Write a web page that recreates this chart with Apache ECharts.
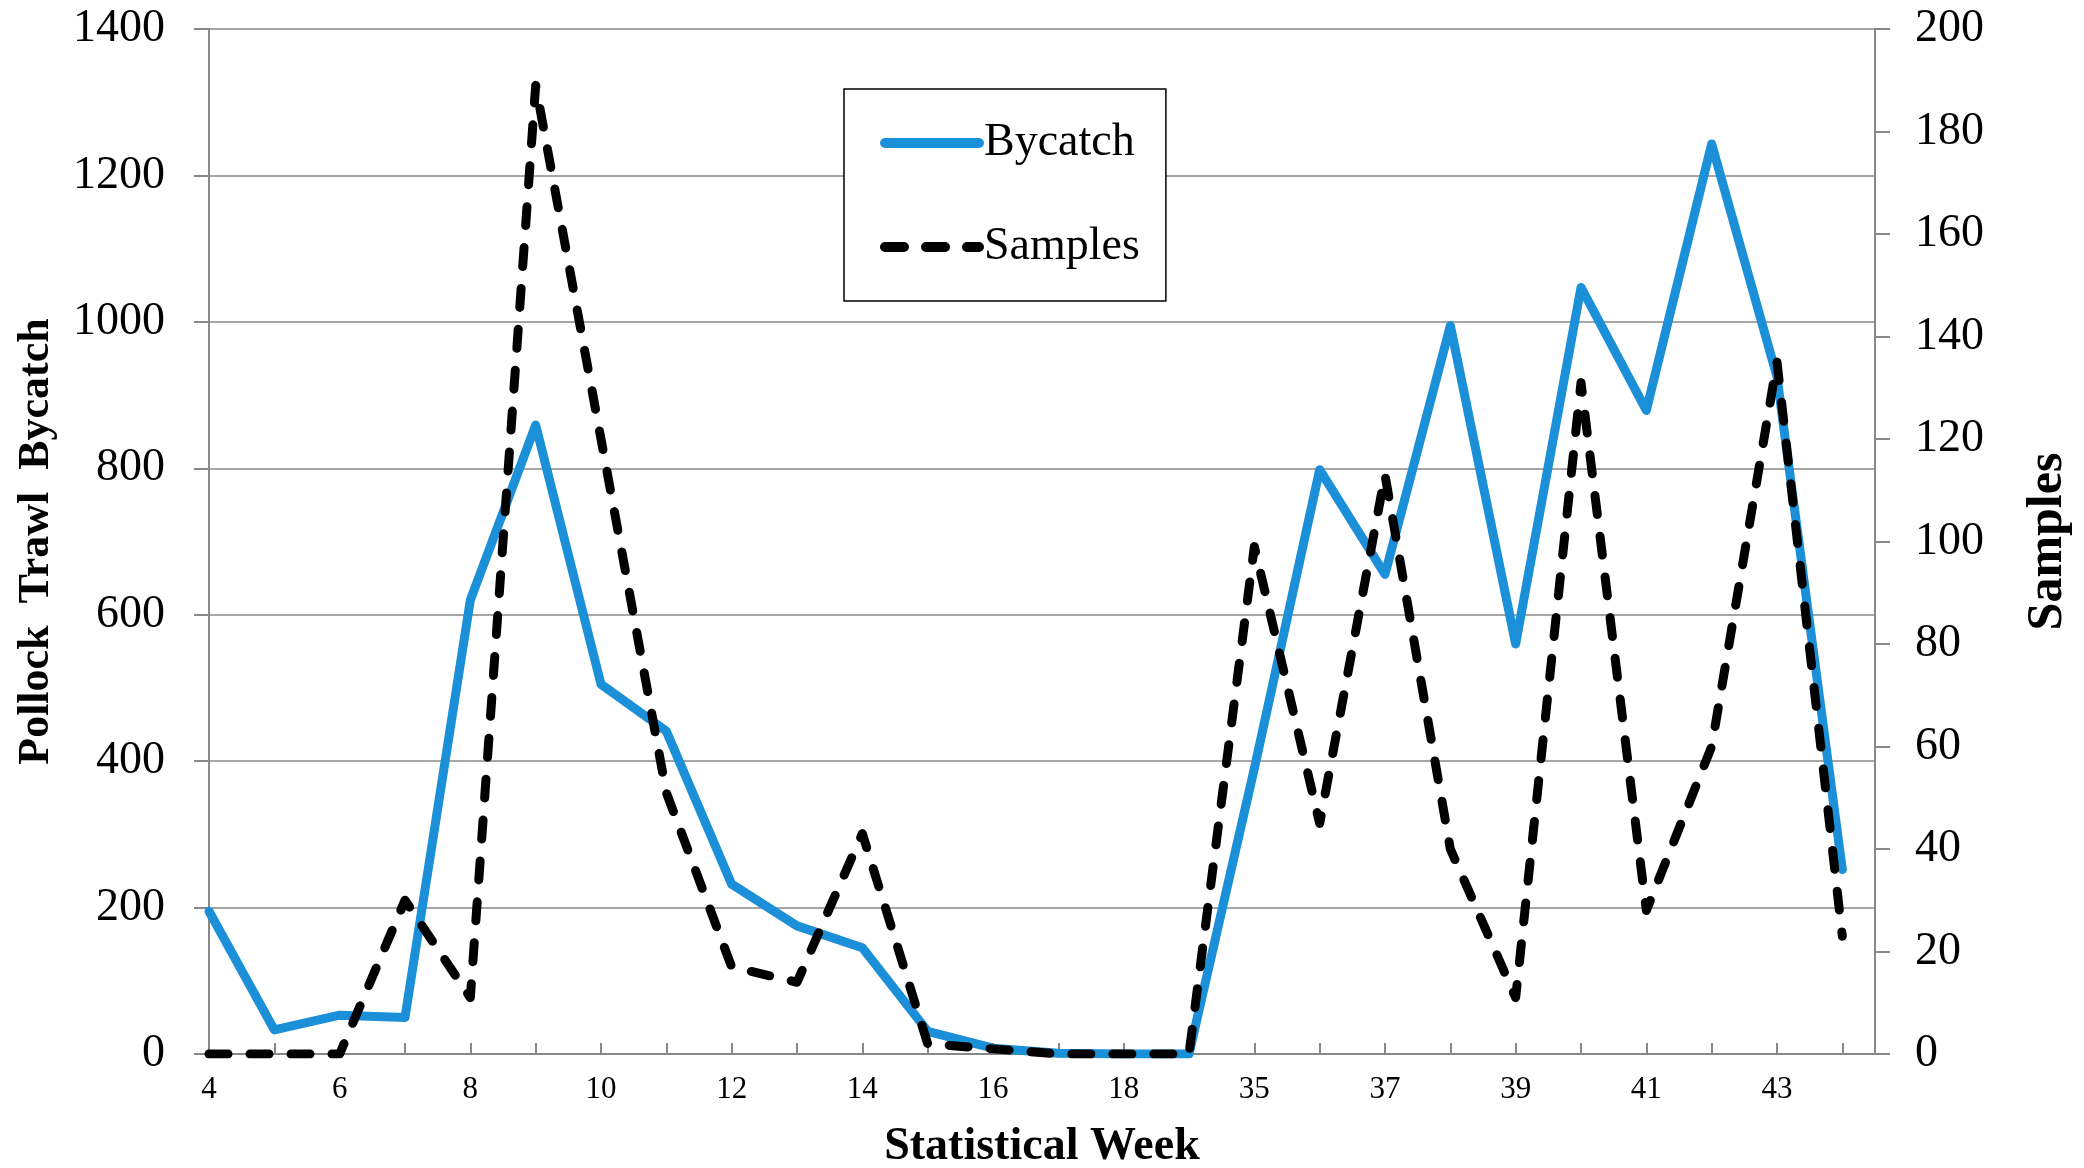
<!DOCTYPE html>
<html><head><meta charset="utf-8">
<script src="https://cdn.jsdelivr.net/npm/echarts@6/dist/echarts.min.js"></script>
<style>html,body{margin:0;padding:0;background:#fff}#c{width:2084px;height:1168px}</style>
</head><body><div id="c"></div>
<script>
const weeks = [4,5,6,7,8,9,10,11,12,13,14,15,16,17,18,19,35,36,37,38,39,40,41,42,43,44];
const bycatch = [195,33,53,50,620,859,505,441,232,175,145,31,8,1,0,0,390,798,655,995,560,1047,879,1243,925,252];
const samples = [0,0,0,30,11,189,120,51,17,14,43,2,1,0,0,0,99,45,113,40,11,131,28,60,135,23];
const leftTicks = {min:0, max:1400, interval:200};
const rightTicks = {min:0, max:200, interval:20};

const FONT = '"Liberation Serif","Times New Roman",serif';
const AXIS = '#888888';
const GRID = '#a6a6a6';
const BLUE = '#1b8fd7';

const chart = echarts.init(document.getElementById('c'), null, {renderer:'canvas'});
chart.setOption({
  animation:false,
  backgroundColor:'#ffffff',
  grid:{left:209, right:209, top:29, bottom:114, outerBoundsMode:'none'},
  legend:{
    data:['Bycatch','Samples'],
    orient:'vertical', left:844, top:89,
    padding:[31,26,31,36], itemGap:58, itemWidth:94, itemHeight:46,
    borderColor:'#000', borderWidth:1.5, backgroundColor:'#fff',
    textStyle:{fontFamily:FONT, fontSize:46, color:'#000'},
    itemStyle:{opacity:0},
    lineStyle:{width:10}
  },
  xAxis:{
    type:'value', min:0, max:weeks.length - 0.5, interval:1,
    name:'Statistical Week', nameLocation:'middle', nameGap:70,
    nameTextStyle:{fontFamily:FONT, fontSize:46, fontWeight:'bold', color:'#000'},
    axisLine:{onZero:false, lineStyle:{color:AXIS, width:2}},
    axisTick:{inside:true, length:11, lineStyle:{color:AXIS, width:2}},
    axisLabel:{margin:20, fontFamily:FONT, fontSize:31, color:'#000',
      formatter:function(v){ return (Number.isInteger(v) && v % 2 === 0 && weeks[v] !== undefined) ? String(weeks[v]) : ''; }},
    splitLine:{show:false}
  },
  yAxis:[
    {type:'value', position:'left', min:leftTicks.min, max:leftTicks.max, interval:leftTicks.interval,
     name:'Pollock  Trawl  Bycatch', nameLocation:'middle', nameGap:150, nameRotate:90,
     nameTextStyle:{fontFamily:FONT, fontSize:44, fontWeight:'bold', color:'#000'},
     axisLine:{show:true, onZero:false, lineStyle:{color:AXIS, width:2}},
     axisTick:{show:true, length:15, lineStyle:{color:AXIS, width:2}},
     axisLabel:{margin:44, fontFamily:FONT, fontSize:46, color:'#000', formatter:function(v){return String(v);}},
     splitLine:{show:true, lineStyle:{color:GRID, width:2}}},
    {type:'value', position:'right', min:rightTicks.min, max:rightTicks.max, interval:rightTicks.interval,
     name:'Samples', nameLocation:'middle', nameGap:148, nameRotate:90,
     nameTextStyle:{fontFamily:FONT, fontSize:50, fontWeight:'bold', color:'#000'},
     axisLine:{show:true, onZero:false, lineStyle:{color:AXIS, width:2}},
     axisTick:{show:true, length:15, lineStyle:{color:AXIS, width:2}},
     axisLabel:{margin:40, fontFamily:FONT, fontSize:46, color:'#000', formatter:function(v){return String(v);}},
     splitLine:{show:false}}
  ],
  series:[
    {name:'Bycatch', type:'line', yAxisIndex:0, symbol:'none',
     data:bycatch.map(function(v,i){return [i,v];}),
     lineStyle:{color:BLUE, width:9, join:'round', cap:'round'}, itemStyle:{color:BLUE}},
    {name:'Samples', type:'line', yAxisIndex:1, symbol:'none',
     data:samples.map(function(v,i){return [i,v];}),
     lineStyle:{color:'#000', width:9, type:[19,22], cap:'round', join:'round'}, itemStyle:{color:'#000'}}
  ]
});
</script></body></html>
